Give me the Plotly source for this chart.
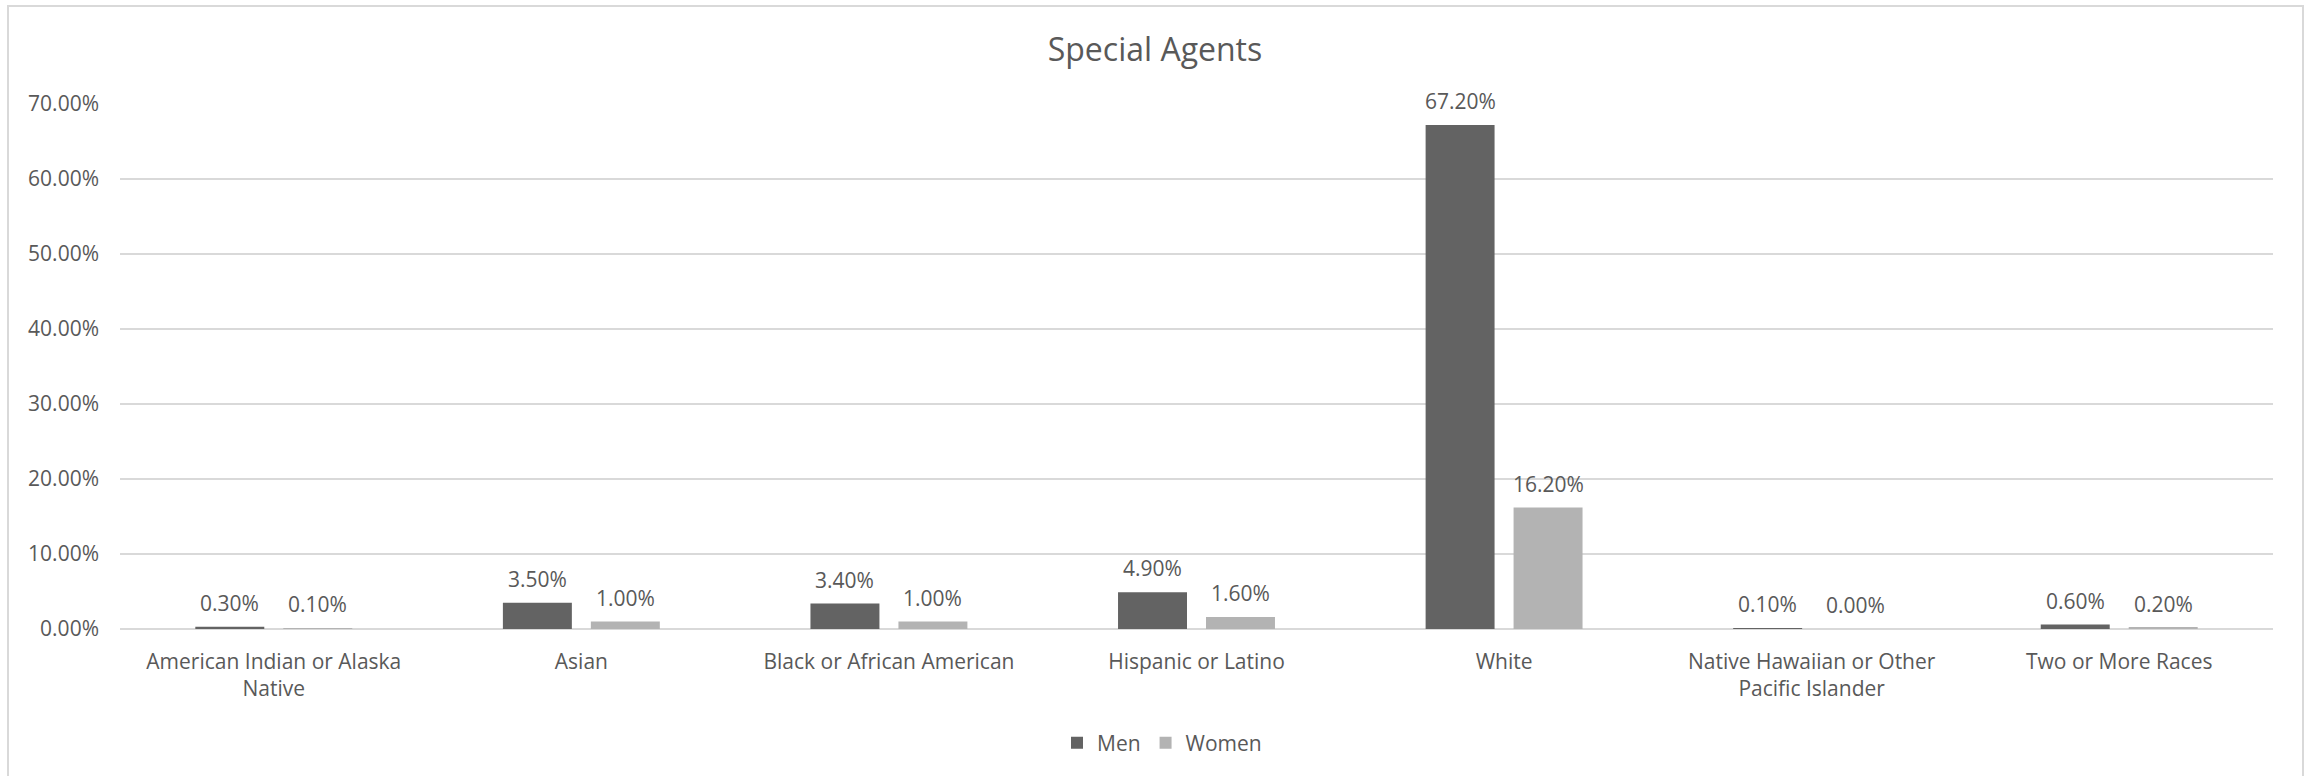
import plotly.graph_objects as go

categories = [
    "American Indian or Alaska<br>Native",
    "Asian",
    "Black or African American",
    "Hispanic or Latino",
    "White",
    "Native Hawaiian or Other<br>Pacific Islander",
    "Two or More Races",
]
men = [0.003, 0.035, 0.034, 0.049, 0.672, 0.001, 0.006]
women = [0.001, 0.010, 0.010, 0.016, 0.162, 0.000, 0.002]
y_ticks = [0, 0.1, 0.2, 0.3, 0.4, 0.5, 0.6, 0.7]

W, H = 2310, 776
L, R, T, B = 120, 2310 - 2273, 104, 776 - 629
pw, ph = W - L - R, H - T - B

TXT = "#595959"
FONT = "Open Sans"
MEN_C = "#636363"
WOMEN_C = "#b3b3b3"

fig = go.Figure()
fig.add_trace(go.Bar(name="Men", x=categories, y=men, marker_color=MEN_C,
                     marker_line_width=0, hoverinfo="skip"))
fig.add_trace(go.Bar(name="Women", x=categories, y=women, marker_color=WOMEN_C,
                     marker_line_width=0, hoverinfo="skip"))

cat_w = pw / len(categories)
bargap = 0.428
bargroupgap = 0.216
slot = cat_w * (1 - bargap) / 2
off = slot / 2

annotations = []
for series, sign in ((men, -1), (women, 1)):
    for c, v in zip(categories, series):
        annotations.append(dict(
            x=c, y=v, xref="x", yref="y", text=f"{v*100:.2f}%",
            showarrow=False, xshift=sign * off, yanchor="bottom", yshift=8,
            font=dict(family=FONT, size=21, color=TXT)))

fig.update_layout(
    width=W, height=H,
    margin=dict(l=L, r=R, t=T, b=B, pad=0),
    paper_bgcolor="white", plot_bgcolor="white",
    barmode="group", bargap=bargap, bargroupgap=bargroupgap,
    title=dict(text="Special Agents", x=1155 / W, xanchor="center",
               y=1 - 50 / H, yanchor="middle",
               font=dict(family=FONT, size=32, color=TXT)),
    font=dict(family=FONT, size=21, color=TXT),
    showlegend=True,
    legend=dict(orientation="h", x=(1162 - L) / pw, xanchor="center",
                y=(629 - 743) / ph, yanchor="middle",
                font=dict(family=FONT, size=21, color=TXT),
                itemwidth=30, traceorder="normal"),
    xaxis=dict(showgrid=False, showline=False, ticks="", zeroline=False,
               tickfont=dict(family=FONT, size=21, color=TXT),
               ticklabelstandoff=18),
    yaxis=dict(range=[0, 0.7], tickvals=y_ticks, tickformat=".2%",
               showgrid=True, gridcolor="#d9d9d9", gridwidth=2,
               zeroline=True, zerolinecolor="#d9d9d9", zerolinewidth=2,
               showline=False, ticks="",
               tickfont=dict(family=FONT, size=21, color=TXT),
               ticklabelstandoff=20),
    annotations=annotations,
    shapes=[dict(type="rect", xref="paper", yref="paper",
                 x0=(8 - L) / pw, x1=(2303 - L) / pw,
                 y0=(629 - 800) / ph, y1=(629 - 6) / ph,
                 line=dict(color="#d9d9d9", width=2), layer="below")],
)

fig.write_html("out.html")
